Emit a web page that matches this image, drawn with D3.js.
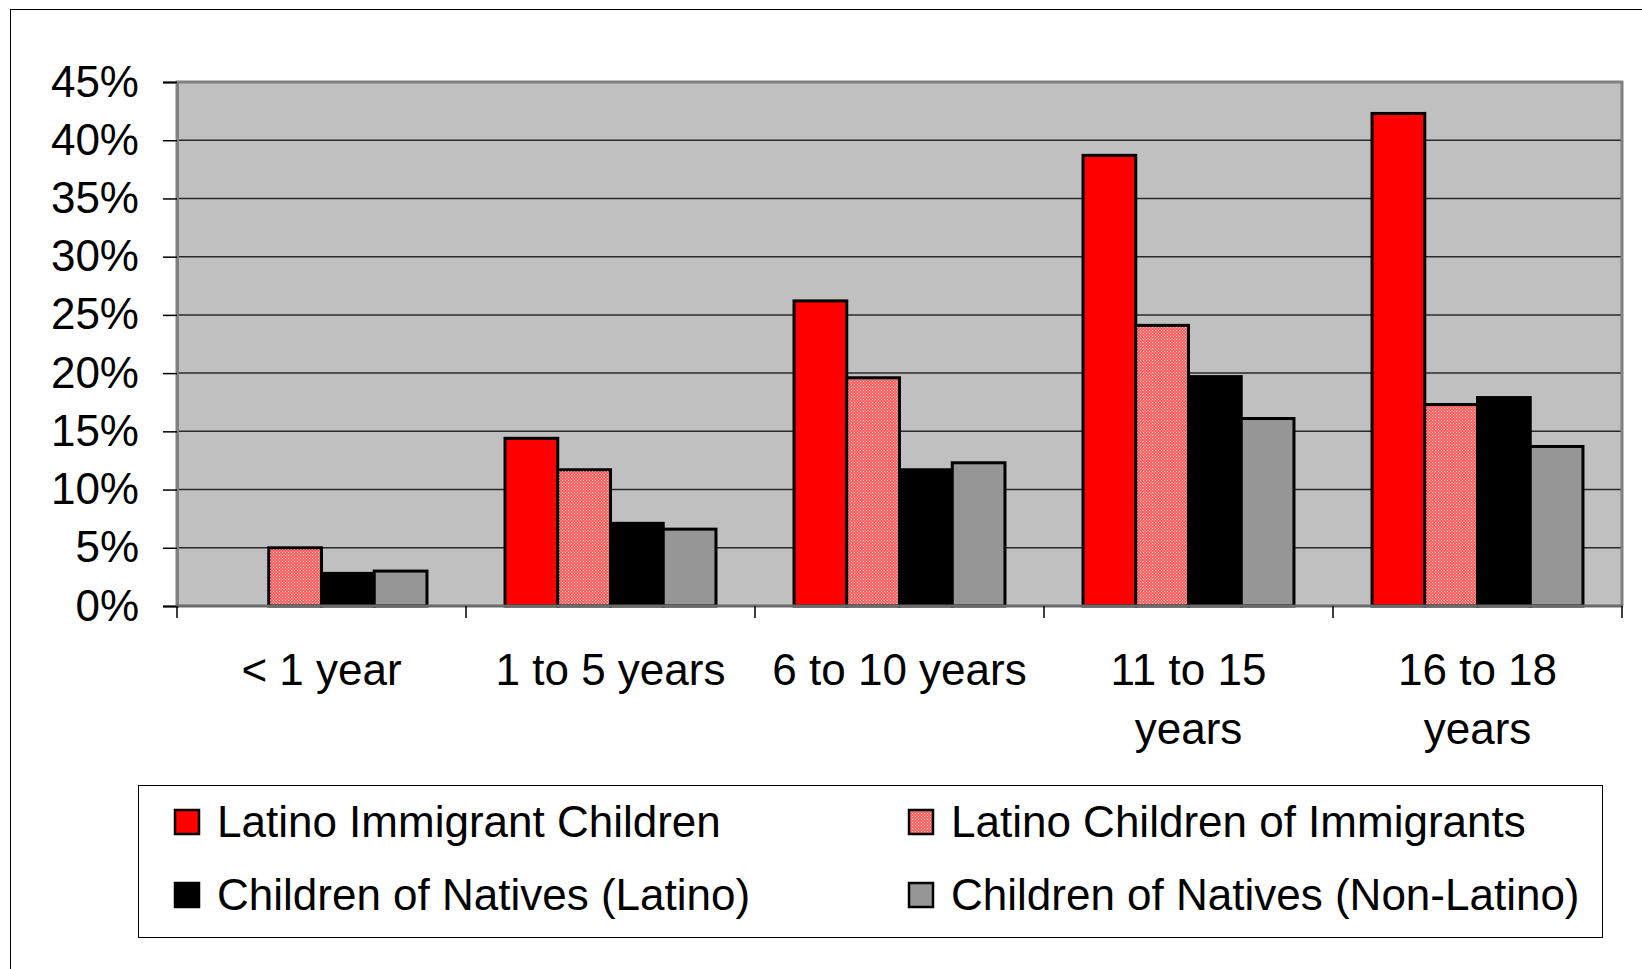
<!DOCTYPE html>
<html>
<head>
<meta charset="utf-8">
<script src="https://cdn.jsdelivr.net/npm/d3@7"></script>
<style>
  body { margin: 0; background: #fff; }
  text { font-family: "Liberation Sans", Arial, sans-serif; fill: #000; }
</style>
</head>
<body>
<svg id="chart" width="1642" height="969"></svg>
<script>
// data (percent)
const categories = ["< 1 year", "1 to 5 years", "6 to 10 years", "11 to 15 years", "16 to 18 years"];
const categoryLines = [["< 1 year"], ["1 to 5 years"], ["6 to 10 years"], ["11 to 15", "years"], ["16 to 18", "years"]];
const seriesNames = ["Latino Immigrant Children", "Latino Children of Immigrants", "Children of Natives (Latino)", "Children of Natives (Non-Latino)"];
const immigrantChildren = [0, 14.4, 26.2, 38.7, 42.3];
const childrenOfImmigrants = [5.0, 11.7, 19.6, 24.1, 17.3];
const nativesLatino = [2.8, 7.1, 11.7, 19.7, 17.9];
const nativesNonLatino = [3.0, 6.6, 12.3, 16.1, 13.7];
const yTicks = [0, 5, 10, 15, 20, 25, 30, 35, 40, 45];

const seriesValues = [immigrantChildren, childrenOfImmigrants, nativesLatino, nativesNonLatino];
const fills = ["#ff0000", "url(#pinkDots)", "#000000", "#969696"];

const plot = { left: 177, top: 82, right: 1622, bottom: 606 };

const svg = d3.select("#chart");

// dotted pink fill like the excel pattern
const defs = svg.append("defs");
const pat = defs.append("pattern")
  .attr("id", "pinkDots")
  .attr("width", 3).attr("height", 3)
  .attr("patternUnits", "userSpaceOnUse");
pat.append("rect").attr("width", 3).attr("height", 3).attr("fill", "#ff5c5c");
pat.append("rect").attr("width", 1).attr("height", 1).attr("fill", "#ffd8d8");
pat.append("rect").attr("x", 1.5).attr("y", 1.5).attr("width", 1).attr("height", 1).attr("fill", "#ffbcbc");

// outer frame
svg.append("rect")
  .attr("x", 10.5).attr("y", 9.5)
  .attr("width", 1700).attr("height", 1000)
  .attr("fill", "none").attr("stroke", "#000").attr("stroke-width", 1);

const x = d3.scaleBand().domain(categories).range([plot.left, plot.right]).paddingInner(0).paddingOuter(0);
const xs = d3.scaleBand().domain(d3.range(seriesNames.length)).range([0, x.bandwidth()]).paddingInner(0).paddingOuter(0.74);
const y = d3.scaleLinear().domain([0, 45]).range([plot.bottom, plot.top]);

// plot background
svg.append("rect")
  .attr("x", plot.left).attr("y", plot.top)
  .attr("width", plot.right - plot.left).attr("height", plot.bottom - plot.top)
  .attr("fill", "#c0c0c0");

// gridlines
svg.append("g")
  .selectAll("line")
  .data(yTicks.filter(d => d > 0 && d < 45))
  .join("line")
  .attr("x1", plot.left).attr("x2", plot.right)
  .attr("y1", d => y(d)).attr("y2", d => y(d))
  .attr("stroke", "#2a2a2a").attr("stroke-width", 1.5);

// plot border (top, left, right)
svg.append("path")
  .attr("d", `M${plot.left},${plot.bottom} V${plot.top} H${plot.right} V${plot.bottom}`)
  .attr("fill", "none").attr("stroke", "#808080").attr("stroke-width", 3);

// bars
const groups = svg.append("g")
  .selectAll("g")
  .data(categories)
  .join("g")
  .attr("transform", d => `translate(${x(d)},0)`);

groups.selectAll("rect")
  .data((c, ci) => seriesValues.map((vals, si) => ({ si, v: vals[ci] })).filter(d => d.v > 0))
  .join("rect")
  .attr("x", d => xs(d.si))
  .attr("width", xs.bandwidth())
  .attr("y", d => y(d.v))
  .attr("height", d => y(0) - y(d.v))
  .attr("fill", d => fills[d.si])
  .attr("stroke", "#000")
  .attr("stroke-width", 3);

// y axis
const yAxis = svg.append("g")
  .attr("transform", `translate(${plot.left},0)`)
  .call(d3.axisLeft(y).tickValues(yTicks).tickFormat(d => d + "%").tickSize(14).tickPadding(24));
yAxis.select(".domain").attr("stroke", "#808080").attr("stroke-width", 3);
yAxis.selectAll(".tick line").attr("stroke", "#000").attr("stroke-width", 1.5);
yAxis.selectAll(".tick text")
  .attr("font-size", 44)
  .attr("font-family", "Liberation Sans, Arial, sans-serif")
  .attr("fill", "#000");

// x axis base line + ticks at category boundaries
svg.append("line")
  .attr("x1", plot.left - 1).attr("x2", plot.right + 1)
  .attr("y1", plot.bottom).attr("y2", plot.bottom)
  .attr("stroke", "#6a6a6a").attr("stroke-width", 3);

svg.append("g")
  .selectAll("line")
  .data(categories.map(c => x(c)).concat([plot.right]))
  .join("line")
  .attr("x1", d => d).attr("x2", d => d)
  .attr("y1", plot.bottom).attr("y2", plot.bottom + 12)
  .attr("stroke", "#000").attr("stroke-width", 1.5);

// category labels
const labels = svg.append("g")
  .selectAll("text")
  .data(categories)
  .join("text")
  .attr("x", d => x(d) + x.bandwidth() / 2)
  .attr("y", 670)
  .attr("text-anchor", "middle")
  .attr("font-size", 44);
labels.selectAll("tspan")
  .data((d, i) => categoryLines[i])
  .join("tspan")
  .attr("x", function () { return d3.select(this.parentNode).attr("x"); })
  .attr("dy", (d, i) => i === 0 ? "0.35em" : 59)
  .text(d => d);

// legend
const legend = { x: 138, y: 785, w: 1464, h: 152 };
svg.append("rect")
  .attr("x", legend.x + 0.5).attr("y", legend.y + 0.5)
  .attr("width", legend.w).attr("height", legend.h)
  .attr("fill", "#fff").attr("stroke", "#000").attr("stroke-width", 1);

const colX = [175, 909];
const rowY = [822, 895];
const items = svg.append("g")
  .selectAll("g")
  .data(seriesNames)
  .join("g")
  .attr("transform", (d, i) => `translate(${colX[i % 2]},${rowY[Math.floor(i / 2)]})`);

items.append("rect")
  .attr("x", 0).attr("y", -12)
  .attr("width", 24).attr("height", 24)
  .attr("fill", (d, i) => fills[i])
  .attr("stroke", "#000").attr("stroke-width", 2.5);

items.append("text")
  .attr("x", 42).attr("y", 0).attr("dy", "0.35em")
  .attr("font-size", 44)
  .text(d => d);
</script>
</body>
</html>
